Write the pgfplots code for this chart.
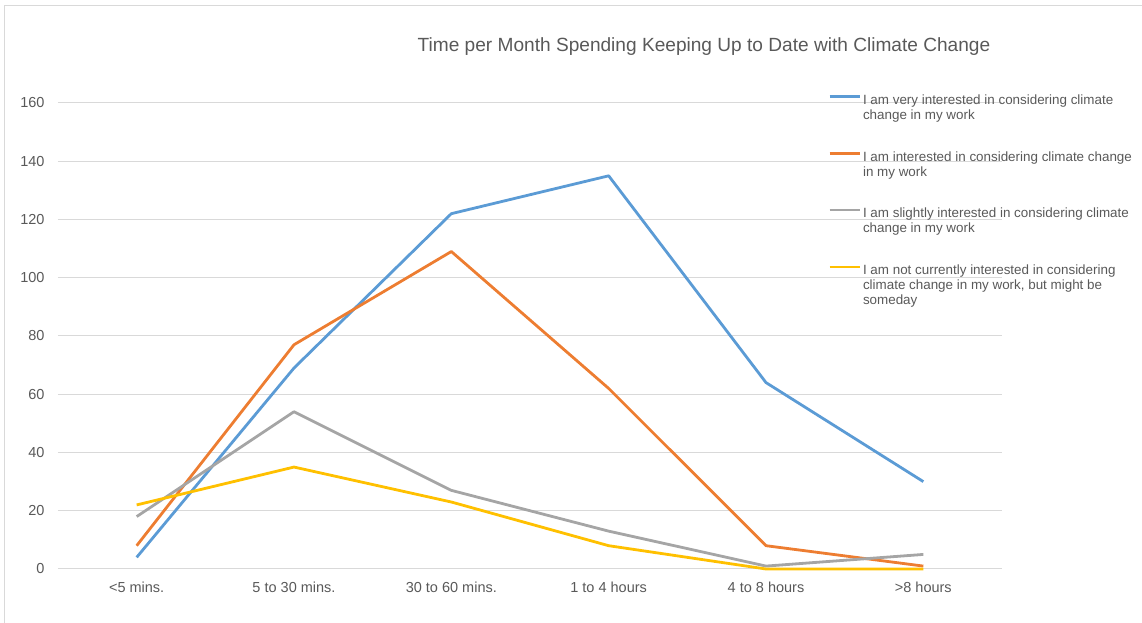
\documentclass[border=0pt]{standalone}
\usepackage{pgfplots}
\pgfplotsset{compat=1.18}
\usepackage{fontspec}
\setmainfont{Liberation Sans}
\definecolor{cblue}{HTML}{5B9BD5}
\definecolor{corange}{HTML}{ED7D31}
\definecolor{cgray}{HTML}{A5A5A5}
\definecolor{cyellow}{HTML}{FFC000}
\definecolor{txt}{HTML}{595959}
\definecolor{gridc}{HTML}{D9D9D9}
\begin{document}
\begin{tikzpicture}[x=1pt,y=1pt]
\useasboundingbox (0,0) rectangle (1142,623);
\draw[gridc, line width=1pt] (4,0) -- (4,617) -- (1142,617);
\node[text=txt, font=\fontsize{19.1}{22}\selectfont, anchor=base] at (704,571) {Time per Month Spending Keeping Up to Date with Climate Change};
\begin{axis}[
  at={(58pt,54pt)}, anchor=south west,
  scale only axis, width=944pt, height=466pt,
  xmin=-0.5, xmax=5.5, ymin=0, ymax=160,
  xtick={0,1,2,3,4,5},
  xticklabels={{<5 mins.},{5 to 30 mins.},{30 to 60 mins.},{1 to 4 hours},{4 to 8 hours},{>8 hours}},
  ytick={0,20,...,160},
  ymajorgrids, grid style={gridc, line width=1pt},
  axis line style={draw=none},
  major tick length=0pt,
  tick label style={font=\fontsize{14.5}{17}\selectfont, text=txt},
  /pgf/number format/assume math mode=true,
  yticklabel style={xshift=-10pt},
  xticklabel style={yshift=-9pt},
  clip=false,
  legend image code/.code={\draw[#1] (0pt,-2pt) -- (30pt,-2pt);},
  legend style={at={(0.8157,1.0193)}, anchor=north west, draw=none, fill=none,
    inner sep=0pt, row sep=30.5pt, column sep=2pt,
    cells={anchor=north west},
    nodes={inner sep=0pt, align=left, text=txt, font=\fontsize{13.4}{15}\selectfont}},
  every axis plot/.append style={line width=2.8pt, line join=round},
]
\addplot[cblue] coordinates {(0,4) (1,69) (2,122) (3,135) (4,64) (5,30)};
\addlegendentry{I am very interested in considering climate\\change in my work}
\addplot[corange] coordinates {(0,8) (1,77) (2,109) (3,62) (4,8) (5,1)};
\addlegendentry{I am interested in considering climate change\\in my work}
\addplot[cgray] coordinates {(0,18) (1,54) (2,27) (3,13) (4,1) (5,5)};
\addlegendentry{I am slightly interested in considering climate\\change in my work}
\addplot[cyellow] coordinates {(0,22) (1,35) (2,23) (3,8) (4,0) (5,0)};
\addlegendentry{I am not currently interested in considering\\climate change in my work, but might be\\someday}
\end{axis}
\end{tikzpicture}
\end{document}
